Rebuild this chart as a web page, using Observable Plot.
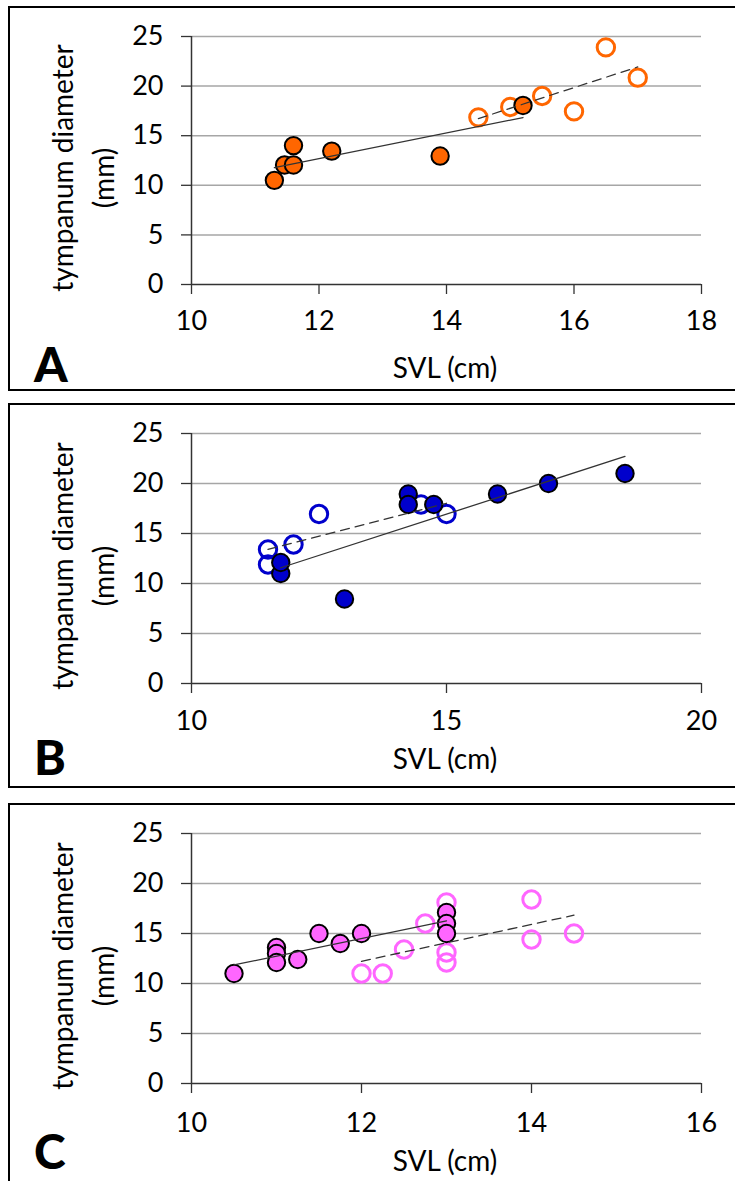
<!DOCTYPE html>
<html>
<head>
<meta charset="utf-8">
<script src="https://cdn.jsdelivr.net/npm/d3@7"></script>
<script src="https://cdn.jsdelivr.net/npm/@observablehq/plot@0.6"></script>
<style>
  html, body { margin: 0; padding: 0; background: #fff; overflow: hidden; }
  #page { position: relative; width: 735px; height: 1181px; overflow: hidden; font-family: Lato, sans-serif; color: #000; }
  .box { position: absolute; box-sizing: border-box; border: 2px solid #000; }
  .svgwrap { position: absolute; left: 0; }
  .ytitle { position: absolute; white-space: nowrap; font-size: 28px; transform: translate(-50%, -50%) rotate(-90deg); line-height: 1; }
  .xtitle { position: absolute; white-space: nowrap; font-size: 28px; transform: translate(-50%, -50%); line-height: 1; }
  .letter { position: absolute; font-size: 48px; font-weight: 900; line-height: 1; }
</style>
</head>
<body>
<div id="page"></div>
<script>
// ---------- data (SVL cm, tympanum diameter mm) ----------
const yTicks = [0, 5, 10, 15, 20, 25];

const xTicksA = [10, 12, 14, 16, 18];
const filledA = [[11.3, 10.5], [11.46, 12.05], [11.6, 14.0], [11.6, 12.05], [12.2, 13.45], [13.9, 12.95], [15.2, 18.05]];
const openA   = [[14.5, 16.85], [15.0, 17.9], [15.5, 19.0], [16.0, 17.45], [16.5, 23.9], [17.0, 20.85]];

const xTicksB = [10, 15, 20];
const filledB = [[11.75, 11.0], [11.75, 12.1], [13.0, 8.45], [14.25, 18.95], [14.25, 17.9], [14.75, 17.9], [16.0, 18.95], [17.0, 20.0], [18.5, 21.0]];
const openB   = [[11.5, 13.4], [11.5, 11.9], [12.0, 13.9], [12.5, 16.95], [14.5, 17.9], [15.0, 16.95]];

const xTicksC = [10, 12, 14, 16];
const filledC = [[10.5, 11.0], [11.0, 13.6], [11.0, 13.0], [11.0, 12.1], [11.25, 12.4], [11.5, 15.0], [11.75, 14.0], [12.0, 15.0], [13.0, 17.1], [13.0, 16.0], [13.0, 15.0]];
const openC   = [[12.0, 11.0], [12.25, 11.0], [12.5, 13.4], [12.75, 16.0], [13.0, 18.1], [13.0, 13.1], [13.0, 12.1], [14.0, 18.4], [14.0, 14.4], [14.5, 15.0]];

const labelY = ["tympanum diameter", "(mm)"];
const labelX = "SVL (cm)";

// ---------- layout ----------
const page = document.getElementById("page");

function panel(cfg) {
  const box = document.createElement("div");
  box.className = "box";
  Object.assign(box.style, { left: "8px", top: cfg.boxTop + "px", width: "760px", height: cfg.boxH + "px" });
  page.appendChild(box);

  const X = d => d[0], Y = d => d[1];
  const axisStroke = "#333";
  const chart = Plot.plot({
    width: 735,
    height: cfg.h,
    marginLeft: 191,
    marginRight: 34,
    marginTop: cfg.mt,
    marginBottom: cfg.mb,
    style: { fontFamily: "Lato, sans-serif", fontSize: "27px", background: "transparent", overflow: "visible" },
    x: { domain: [cfg.xTicks[0], cfg.xTicks[cfg.xTicks.length - 1]] },
    y: { domain: [0, 25] },
    marks: [
      Plot.gridY(yTicks.filter(v => v > 0), { stroke: "#a6a6a6", strokeOpacity: 1, strokeWidth: 1.5 }),
      Plot.axisY(yTicks, { tickSize: 10, tickPadding: 18, label: null, stroke: axisStroke, strokeWidth: 1.3, fontSize: 27, fill: "#000" }),
      Plot.axisX(cfg.xTicks, { tickSize: 10, tickPadding: cfg.xpad, label: null, stroke: axisStroke, strokeWidth: 1.3, fontSize: 27, fill: "#000" }),
      Plot.ruleX([cfg.xTicks[0]], { stroke: axisStroke, strokeWidth: 1.5 }),
      Plot.ruleY([0], { stroke: axisStroke, strokeWidth: 1.5 }),
      Plot.dot(cfg.open, { x: X, y: Y, r: 8.7, fill: "none", stroke: cfg.openColor, strokeWidth: 3 }),
      Plot.dot(cfg.filled, { x: X, y: Y, r: 8.7, fill: cfg.color, stroke: "#000", strokeWidth: 2 }),
      Plot.linearRegressionY(cfg.open, { x: X, y: Y, ci: 0, stroke: "#333", strokeWidth: 1.3, strokeDasharray: "9,6" }),
      Plot.linearRegressionY(cfg.filled, { x: X, y: Y, ci: 0, stroke: "#333", strokeWidth: 1.3 })
    ]
  });
  const wrap = document.createElement("div");
  wrap.className = "svgwrap";
  wrap.style.top = cfg.top + "px";
  wrap.appendChild(chart);
  page.appendChild(wrap);

  const plotCenter = cfg.top + (cfg.mt + (cfg.h - cfg.mb)) / 2;
  const t1 = document.createElement("div");
  t1.className = "ytitle"; t1.textContent = labelY[0];
  Object.assign(t1.style, { left: "62px", top: (plotCenter + 8) + "px" });
  page.appendChild(t1);
  const t2 = document.createElement("div");
  t2.className = "ytitle"; t2.textContent = labelY[1];
  Object.assign(t2.style, { left: "103px", top: (plotCenter + 18) + "px" });
  page.appendChild(t2);

  const xt = document.createElement("div");
  xt.className = "xtitle"; xt.textContent = labelX;
  Object.assign(xt.style, { left: "445px", top: cfg.xtitleY + "px" });
  page.appendChild(xt);

  const L = document.createElement("div");
  L.className = "letter"; L.textContent = cfg.letter;
  Object.assign(L.style, { left: "34px", top: cfg.letterTop + "px" });
  page.appendChild(L);
}

panel({ top: 0, h: 390, mt: 36, mb: 106, boxTop: 6, boxH: 385, xTicks: xTicksA, xpad: 16,
        filled: filledA, open: openA, color: "#ff6600", openColor: "#ff6600",
        xtitleY: 367, letter: "A", letterTop: 340 });
panel({ top: 400, h: 390, mt: 33, mb: 107, boxTop: 403, boxH: 385, xTicks: xTicksB, xpad: 17,
        filled: filledB, open: openB, color: "#0000cc", openColor: "#0000cc",
        xtitleY: 758, letter: "B", letterTop: 733 });
panel({ top: 800, h: 381, mt: 33, mb: 98, boxTop: 803, boxH: 500, xTicks: xTicksC, xpad: 19,
        filled: filledC, open: openC, color: "#ff66ff", openColor: "#ff66ff",
        xtitleY: 1160, letter: "C", letterTop: 1127 });
</script>
</body>
</html>
